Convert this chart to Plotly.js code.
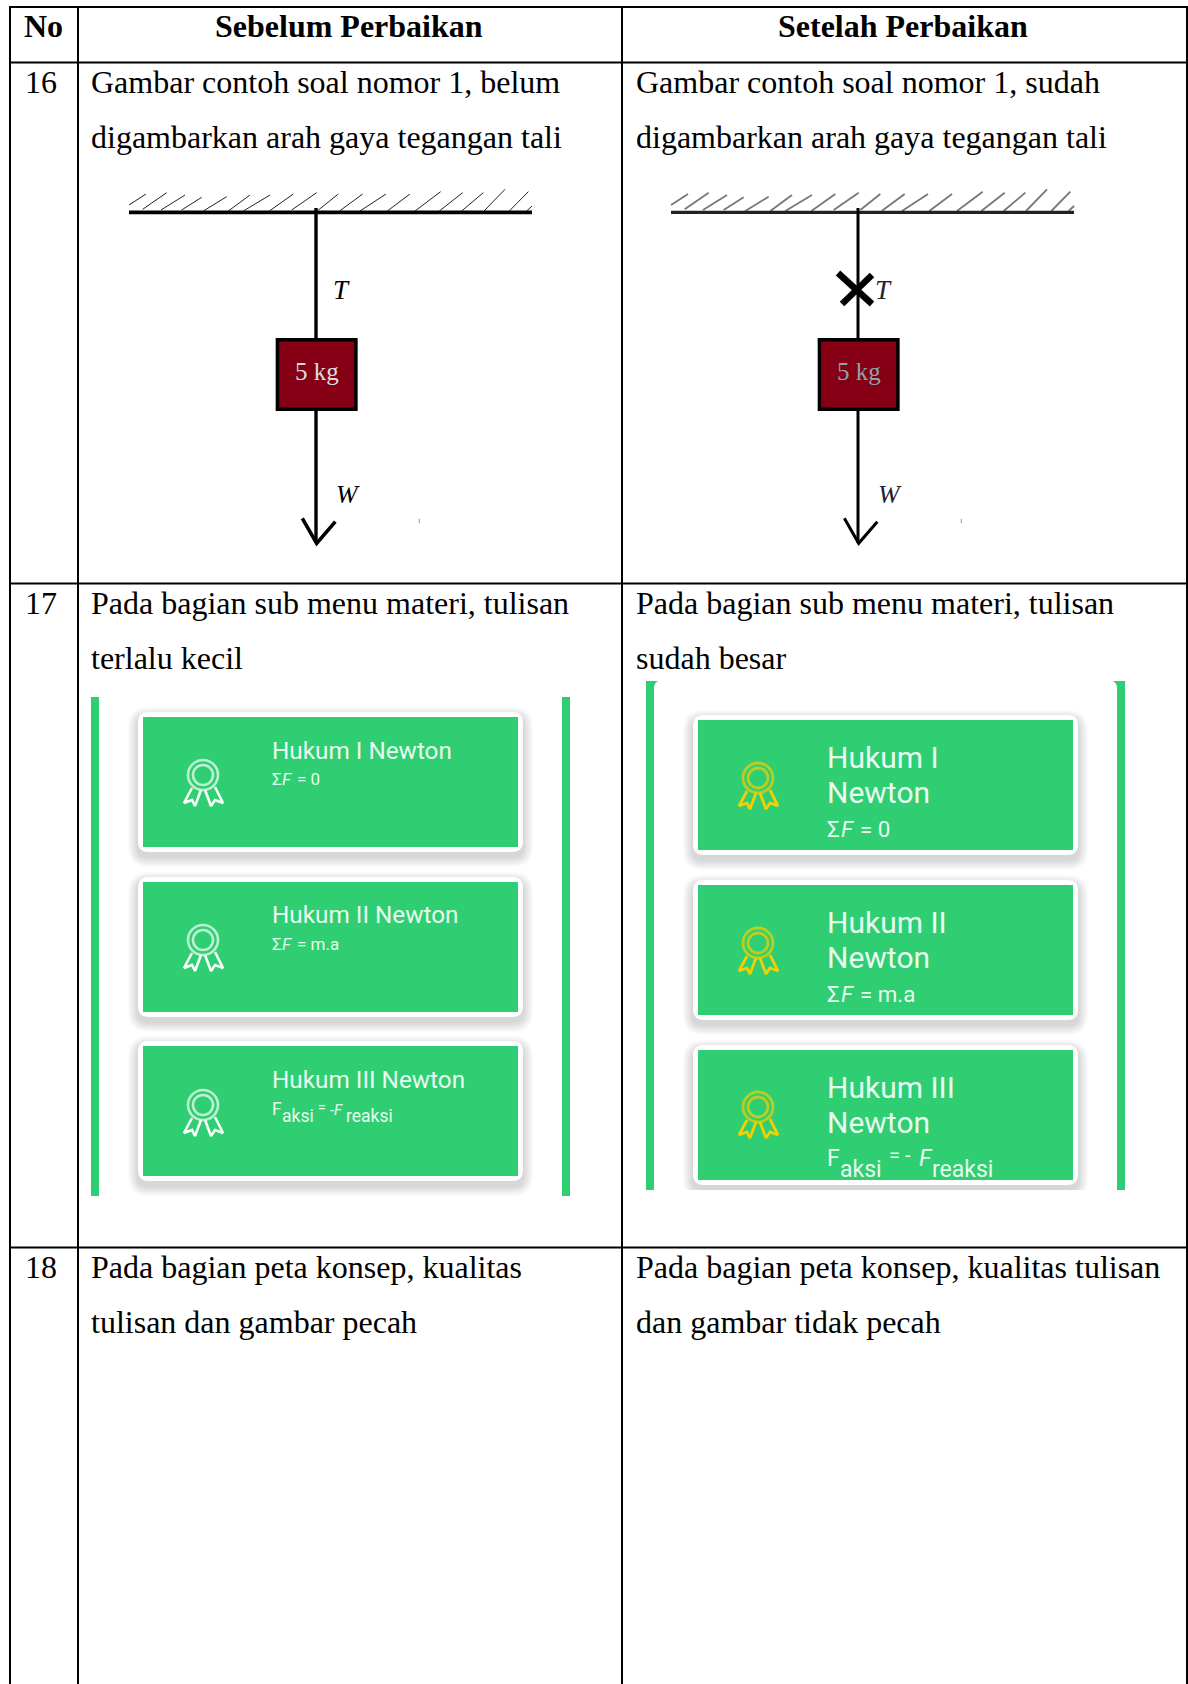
<!DOCTYPE html>
<html><head><meta charset="utf-8">
<script src="https://cdn.plot.ly/plotly-3.0.1.min.js"></script>
<style>html,body{margin:0;padding:0;background:#fff}#c{width:1188px;height:1684px}</style></head>
<body><div id="c"></div>
<script>
// Table grid
const columnLines=[10,78,622,1187];
const rowLines=[7,62.5,583.5,1247.5];
const headers=["No","Sebelum Perbaikan","Setelah Perbaikan"];
const headerCentres=[43.5,349,903];
const rowNumbers=["16","17","18"];
const textLeft=[91,636];
const rowBaselines=[[94,149],[615,670],[1279,1334]];
const beforeText=[["Gambar contoh soal nomor 1, belum","digambarkan arah gaya tegangan tali"],
 ["Pada bagian sub menu materi, tulisan","terlalu kecil"],
 ["Pada bagian peta konsep, kualitas","tulisan dan gambar pecah"]];
const afterText=[["Gambar contoh soal nomor 1, sudah","digambarkan arah gaya tegangan tali"],
 ["Pada bagian sub menu materi, tulisan","sudah besar"],
 ["Pada bagian peta konsep, kualitas tulisan","dan gambar tidak pecah"]];
const hatch=[[87,75,138,42],[128,88,200,38],[183,90,255,45],[245,90,305,52],[310,93,380,50],[385,93,450,45],[430,93,510,45],[508,93,580,42],[575,90,650,38],[655,90,715,42],[720,92,788,42],[780,93,858,42],[862,93,930,42],[945,93,1022,35],[1018,93,1088,38],[1085,93,1150,38],[1152,93,1215,28],[1228,93,1285,35],[1280,93,1296,78]];
const diagramOrigins=[100,642];
// Cards
const cardTitlesBefore=["Hukum I Newton","Hukum II Newton","Hukum III Newton"];
const cardTopsBefore=[717,882,1046];
const cardTopsAfter=[720,885,1050];
const cardHeight=130;
const cardLeft=[143,698];
const cardWidth=375;
const iconCentresBefore=[775,940,1105];
const iconCentresAfter=[778,943,1107];
const iconX=[203,758];
const ribbonLeft=[[-11,13],[-19,28],[-11,25],[-8,31],[-2,15]];
const ribbonRight=[[2,15],[8,31],[12,25],[20,28],[12,12]];
const GREEN="#2fce72", SERIF="Liberation Serif", SANS="Roboto", CARDTXT="#e8fbef";

const ann=[], shapes=[], traces=[];
const DESC={[SERIF]:0.216,[SANS]:0.244};
function text(t,x,base,size,o={}){
  const fam=o.family||SERIF;
  ann.push({text:t,x:x,y:base+DESC[fam]*size,xref:'x',yref:'y',xanchor:o.anchor||'left',yanchor:'bottom',showarrow:false,borderpad:0,
    font:{family:fam,size:size,color:o.color||'#000',weight:o.weight||400,style:o.style||'normal'}});
}
function poly(pts,color,width){
  traces.push({type:'scatter',mode:'lines',x:pts.map(p=>p?p[0]:null),y:pts.map(p=>p?p[1]:null),line:{color:color,width:width,simplify:false},hoverinfo:'skip',showlegend:false});
}
function rr(x0,y0,x1,y1,r){
  return `M${x0+r},${y0} L${x1-r},${y0} Q${x1},${y0} ${x1},${y0+r} L${x1},${y1-r} Q${x1},${y1} ${x1-r},${y1} L${x0+r},${y1} Q${x0},${y1} ${x0},${y1-r} L${x0},${y0+r} Q${x0},${y0} ${x0+r},${y0} Z`;
}
function rect(x0,y0,x1,y1,c){shapes.push({type:'rect',xref:'x',yref:'y',x0,y0,x1,y1,fillcolor:c,line:{width:0},layer:'below'});}

// grid
columnLines.forEach(x=>poly([[x,rowLines[0]-1],[x,1684]],'#000',2));
rowLines.forEach(y=>poly([[columnLines[0]-1,y],[columnLines[3]+1,y]],'#000',2));
headers.forEach((h,i)=>text(h,headerCentres[i],38.5,32,{anchor:'center',weight:700}));
rowNumbers.forEach((n,i)=>text(n,24,rowBaselines[i][0],32));
[beforeText,afterText].forEach((col,c)=>col.forEach((row,r)=>row.forEach((l,k)=>text(l,textLeft[c]-1,rowBaselines[r][k],32))));

// diagrams
diagramOrigins.forEach((ox,d)=>{
  const m=(a,b)=>[ox+a/3,180+b/3];
  const segs=[];
  hatch.forEach(h=>{segs.push(m(h[0],h[1]),m(h[2],h[3]),null);});
  poly(segs,d?'#777777':'#222',d?1.8:1);
  poly([m(87,97),m(1296,97)],d?'#222':'#000',d?3.2:3.6);
  const rope=m(648,0)[0];
  poly([[rope,208],[rope,338],null,[rope,411],[rope,543]],'#000',d?3:3.4);
  poly([m(607,1015),m(650,1090),m(706,1025)],'#000',d?3:3.6);
  rect(m(527,0)[0],338,m(773,0)[0],411,'#000');
  rect(m(527,0)[0]+3.5,341.5,m(773,0)[0]-3.5,407.5,'#850014');
  text('5 kg',rope+1,381,25,{anchor:'center',color:d?'#8fa0ad':'#d8dce2'});
  text('T',m(724,0)[0],300,27,{anchor:'center',style:'italic',color:d?'#223':'#000'});
  text('W',m(745,0)[0],504,26,{anchor:'center',style:'italic',color:d?'#223':'#000'});
  poly([m(958,1016),m(958,1030)],'#c9a08a',1.2);
});
poly([[838,273],[872,304],null,[872,275],[842,304]],'#000',6.5);

// green bars
rect(91,697,99,1196,GREEN);rect(562,697,570,1196,GREEN);
rect(646,681,654,1190,GREEN);rect(1117,681,1125,1190,GREEN);
shapes.push({type:'path',path:'M654,681 L658,681 Q654,683 654,688 Z',xref:'x',yref:'y',fillcolor:GREEN,line:{width:0},layer:'below'});
shapes.push({type:'path',path:'M1117,681 L1113,681 Q1117,683 1117,688 Z',xref:'x',yref:'y',fillcolor:GREEN,line:{width:0},layer:'below'});

// cards
function card(left,top){
  for(let e=10;e>=1;e--){
    shapes.push({type:'path',xref:'x',yref:'y',path:rr(left-5-e,top-5-e+5,left+cardWidth+5+e,top+cardHeight+5+e+5,10+e),fillcolor:'rgba(0,0,0,0.016)',line:{width:0},layer:'below'});
  }
}
[[cardLeft[0],cardTopsBefore],[cardLeft[1],cardTopsAfter]].forEach(([l,tops])=>tops.forEach(t=>card(l,t)));
rect(640,1190,1130,1210,'#fff');
[[cardLeft[0],cardTopsBefore],[cardLeft[1],cardTopsAfter]].forEach(([l,tops])=>tops.forEach(t=>{
  shapes.push({type:'path',xref:'x',yref:'y',path:rr(l-5,t-5,l+cardWidth+5,t+cardHeight+5,11),fillcolor:'#fff',line:{width:0},layer:'below'});
  rect(l,t,l+cardWidth,t+cardHeight,GREEN);
}));

// icons
function icon(x,y,color,w){
  traces.push({type:'scatter',mode:'markers',x:[x,x],y:[y,y],marker:{symbol:'circle-open',size:[30,20],color:color,line:{color:color,width:w}},hoverinfo:'skip',showlegend:false});
  [ribbonLeft,ribbonRight].forEach(r=>poly(r.map(p=>[x+p[0],y+p[1]]),color,w));
}
iconCentresBefore.forEach(y=>icon(iconX[0],y,'#f6fff9',2.6));
iconCentresAfter.forEach(y=>icon(iconX[1],y,'#f5cf00',2.8));

// card text, before
const T1={family:SANS,color:CARDTXT,weight:400};
const TI={family:SANS,color:CARDTXT,weight:400,style:'italic'};
const beforeBase=[760,924,1089];
cardTitlesBefore.forEach((t,i)=>text(t,271,beforeBase[i],24.3,T1));
function sigma(x,base,size,rest,dx){text('Σ',x,base,size,T1);text('F',x+dx,base,size,TI);text(rest,x+dx+size*0.86,base,size,T1);}
sigma(271,786,17,'= 0',10);
sigma(271,951,17,'= m.a',10);
text('F',271,1116,17.5,T1);text('aksi',281,1123,17.5,T1);text('=',317,1113,14,T1);text('-F',329,1116,15,TI);text('reaksi',345,1123,17.5,T1);
// card text, after
const afterBase=[[769,804,838],[934,969,1003],[1099,1134]];
text('Hukum I',826,afterBase[0][0],30,T1);text('Newton',826,afterBase[0][1],30,T1);
text('Hukum II',826,afterBase[1][0],30,T1);text('Newton',826,afterBase[1][1],30,T1);
text('Hukum III',826,afterBase[2][0],30,T1);text('Newton',826,afterBase[2][1],30,T1);
sigma(826,afterBase[0][2],22.3,'= 0',14);
sigma(826,afterBase[1][2],22.3,'= m.a',14);
text('F',826,1167,23,T1);text('aksi',839,1178,23,T1);text('= -',888,1163,20,T1);text('F',918,1167,23,TI);text('reaksi',931,1178,23,T1);

Plotly.newPlot('c',traces,{width:1188,height:1684,margin:{l:0,r:0,t:0,b:0},paper_bgcolor:'#fff',plot_bgcolor:'#fff',showlegend:false,
 xaxis:{range:[0,1188],visible:false,fixedrange:true},yaxis:{range:[1684,0],visible:false,fixedrange:true},shapes:shapes,annotations:ann},{staticPlot:true,displayModeBar:false});
</script></body></html>
